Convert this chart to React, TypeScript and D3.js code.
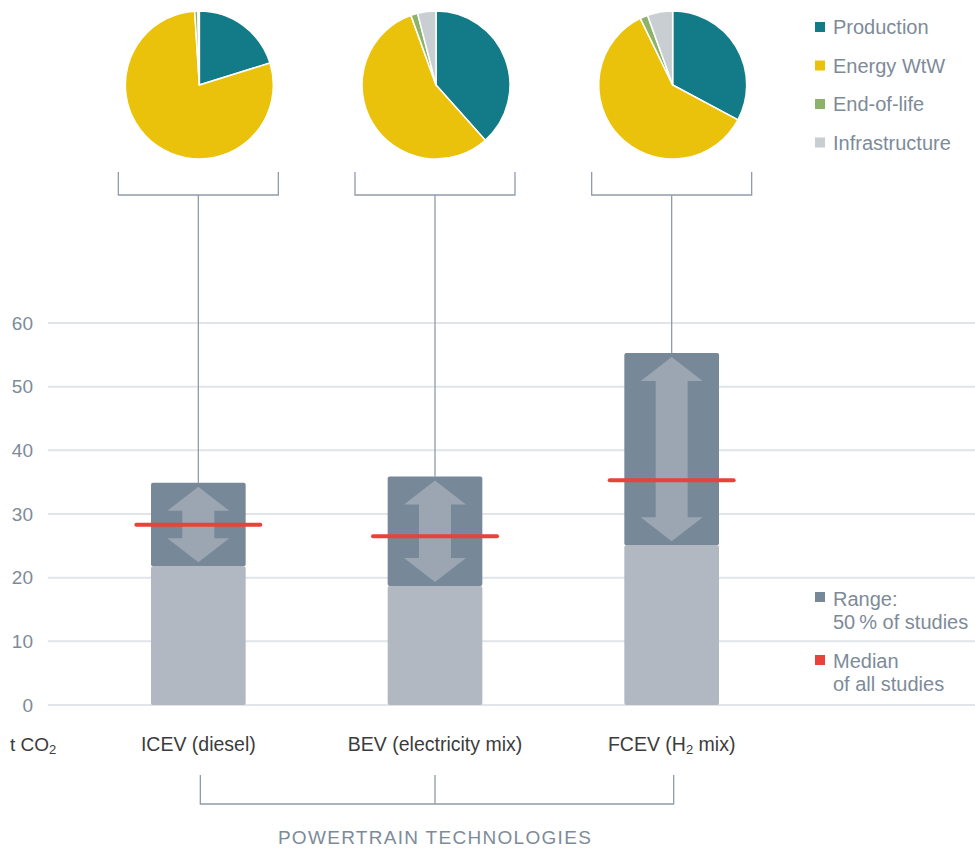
import React from "react";
import * as d3 from "d3";

const categories = ["ICEV (diesel)", "BEV (electricity mix)", "FCEV (H₂ mix)"];
const totalBase = [21.8, 18.7, 25.1];
const rangeLow = [21.8, 18.7, 25.1];
const rangeHigh = [34.9, 35.9, 55.3];
const medians = [28.3, 26.5, 35.3];
const pieSegments = ["Production", "Energy WtW", "End-of-life", "Infrastructure"];
const pieICEV = [20.2, 78.8, 0.7, 0.3];
const pieBEV = [38.4, 56.1, 1.5, 4.0];
const pieFCEV = [32.8, 60.0, 1.7, 5.5];
const pies = [pieICEV, pieBEV, pieFCEV];
const yTicks = [0, 10, 20, 30, 40, 50, 60];

const segColors = ["#127b87", "#ebc20b", "#8db36b", "#c9ced3"];
const textGray = "#7d8b99";
const lineGray = "#8f9cab";
const font = "'Liberation Sans', Arial, Helvetica, sans-serif";

export default function App() {
  const W = 975, H = 850;
  const y = d3.scaleLinear().domain([0, 60]).range([705, 323]);
  const x = d3.scaleBand().domain(categories).range([80, 790]).paddingInner(0.6).paddingOuter(0.3);
  const bw = x.bandwidth();
  const cx = (c: string) => (x(c) as number) + bw / 2;
  const pieGen = d3.pie<number>().sort(null).value((d) => d);
  const arcGen = d3.arc<d3.PieArcDatum<number>>().innerRadius(0).outerRadius(74);
  const pieCy = 85;

  const arrow = (c: string, top: number, bot: number) => {
    const m = cx(c);
    const hw = 31, sw = 16, hh = 24;
    const t = top + 4, b = bot - 4;
    const pts = [
      [m, t], [m + hw, t + hh], [m + sw, t + hh], [m + sw, b - hh], [m + hw, b - hh],
      [m, b], [m - hw, b - hh], [m - sw, b - hh], [m - sw, t + hh], [m - hw, t + hh],
    ];
    return "M" + pts.map((p) => p.join(",")).join("L") + "Z";
  };

  return (
    <svg width={W} height={H} style={{ position: "absolute", left: 0, top: 0 }} fontFamily={font}>
      {/* grid */}
      {yTicks.map((t) => (
        <g key={t}>
          <line x1={48} x2={975} y1={y(t)} y2={y(t)} stroke="#e1e5e9" strokeWidth={2} />
          <text x={33} y={y(t)} dy="0.35em" textAnchor="end" fontSize={19} fill={textGray}>{t}</text>
        </g>
      ))}
      <text x={10} y={751} fontSize={19} fill="#3c3c3c">t CO<tspan fontSize={13} dy={3}>2</tspan></text>

      {/* pies */}
      {categories.map((c, i) => {
        const m = cx(c);
        return (
          <g key={"pie" + i}>
            <g transform={`translate(${m + 1},${pieCy})`}>
              {pieGen(pies[i]).map((a, j) => (
                <path key={j} d={arcGen(a) as string} fill={segColors[j]} stroke="#fff" strokeWidth={1.5} strokeLinejoin="round" />
              ))}
            </g>
            <path d={`M${m - 80},172V195H${m + 80}V172`} fill="none" stroke={lineGray} strokeWidth={1.3} />
            <line x1={m} x2={m} y1={195} y2={y(rangeHigh[i])} stroke={lineGray} strokeWidth={1.3} />
          </g>
        );
      })}

      {/* bars */}
      {categories.map((c, i) => {
        const x0 = x(c) as number;
        return (
          <g key={"bar" + i}>
            <rect x={x0} y={y(totalBase[i])} width={bw} height={y(0) - y(totalBase[i])} fill="#b1b8c1" rx={2} />
            <rect x={x0} y={y(rangeHigh[i])} width={bw} height={y(rangeLow[i]) - y(rangeHigh[i])} fill="#778898" rx={2} />
            <path d={arrow(c, y(rangeHigh[i]), y(rangeLow[i]))} fill="#9ba6b2" />
            <line x1={cx(c) - 62} x2={cx(c) + 62} y1={y(medians[i])} y2={y(medians[i])} stroke="#e8423a" strokeWidth={4} strokeLinecap="round" />
          </g>
        );
      })}

      {/* category labels */}
      {categories.map((c, i) => (
        <text key={"lab" + i} x={cx(c)} y={751} textAnchor="middle" fontSize={19.5} fill="#3c3c3c">
          {i === 2 ? (<>FCEV (H<tspan fontSize={13} dy={3}>2</tspan><tspan dy={-3}> mix)</tspan></>) : c}
        </text>
      ))}

      {/* bottom bracket */}
      <path d={`M${cx(categories[0]) + 2},775V804H${cx(categories[2]) + 2}V775`} fill="none" stroke={lineGray} strokeWidth={1.3} />
      <line x1={cx(categories[1])} x2={cx(categories[1])} y1={775} y2={804} stroke={lineGray} strokeWidth={1.3} />
      <text x={cx(categories[1])} y={844} textAnchor="middle" fontSize={19} fill={textGray} letterSpacing={1.3}>POWERTRAIN TECHNOLOGIES</text>

      {/* top legend */}
      {pieSegments.map((s, j) => (
        <g key={"leg" + j} transform={`translate(815,${27 + j * 38.5})`}>
          <rect x={0} y={-5} width={10} height={10} fill={segColors[j]} />
          <text x={18} y={0} dy="0.35em" fontSize={20} fill={textGray}>{s}</text>
        </g>
      ))}

      {/* bottom legend */}
      <rect x={815} y={592} width={10} height={10} fill="#778898" />
      <text x={833} y={606} fontSize={20} fill={textGray}>Range:</text>
      <text x={833} y={629} fontSize={20} fill={textGray}>50{"\u2009"}% of studies</text>
      <rect x={815} y={655} width={10} height={10} fill="#e8423a" />
      <text x={833} y={668} fontSize={20} fill={textGray}>Median</text>
      <text x={833} y={691} fontSize={20} fill={textGray}>of all studies</text>
    </svg>
  );
}
